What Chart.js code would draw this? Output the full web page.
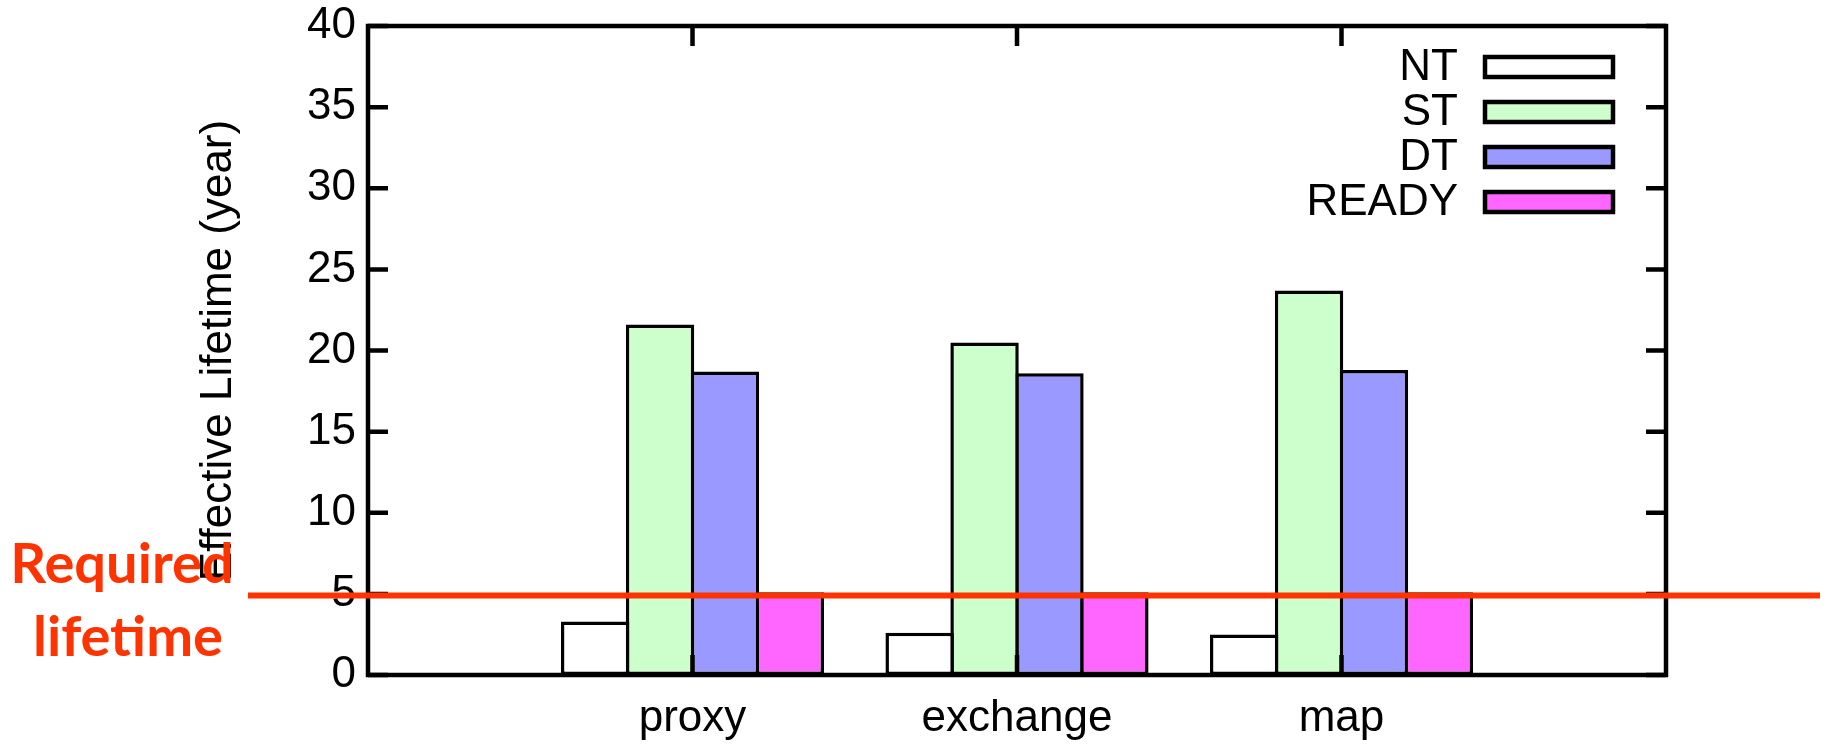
<!DOCTYPE html>
<html>
<head>
<meta charset="utf-8">
<title>Effective Lifetime</title>
<script src="https://cdn.jsdelivr.net/npm/chart.js@4.4.1/dist/chart.umd.min.js"></script>
<style>
  html, body { margin: 0; padding: 0; background: #ffffff; }
  #wrap { width: 1829px; height: 744px; position: relative; }
</style>
</head>
<body>
<div id="wrap"><canvas id="chart"></canvas></div>
<script>
// Workloads on the x axis
const categories = ['proxy', 'exchange', 'map'];

// Effective lifetime in years per scheme
const ntValues    = [3.3, 2.6, 2.5];
const stValues    = [21.6, 20.5, 23.7];
const dtValues    = [18.7, 18.6, 18.8];
const readyValues = [5.1, 5.1, 5.1];

// Y axis ticks (years)
const yTicks = [0, 5, 10, 15, 20, 25, 30, 35, 40];

// Required lifetime marker
const requiredLifetime = 4.9;
const requiredText = ['Required', 'lifetime'];

const yTitle = 'Effective Lifetime (year)';

const AXIS_FONT = '"Liberation Sans", Arial, Helvetica, sans-serif';
Chart.defaults.font.family = AXIS_FONT;
Chart.defaults.color = '#000000';

// Empty slots on both sides of the three workloads
const labels = [''].concat(categories, ['']);
const pad = arr => [null].concat(arr, [null]);

const TICK_LEN = 20;
const BAR_BORDER = 3.5;

// Plot frame with inward ticks on all four sides
const framePlugin = {
  id: 'frame',
  afterDatasetsDraw(chart) {
    const { ctx, chartArea: a, scales: { x, y } } = chart;
    ctx.save();
    ctx.strokeStyle = '#000000';
    ctx.lineWidth = 4.5;
    ctx.beginPath();
    yTicks.forEach(v => {
      const py = y.getPixelForValue(v);
      ctx.moveTo(a.left, py);  ctx.lineTo(a.left + TICK_LEN, py);
      ctx.moveTo(a.right, py); ctx.lineTo(a.right - TICK_LEN, py);
    });
    categories.forEach((c, i) => {
      const px = x.getPixelForValue(i + 1);
      ctx.moveTo(px, a.top);    ctx.lineTo(px, a.top + TICK_LEN);
      ctx.moveTo(px, a.bottom); ctx.lineTo(px, a.bottom - TICK_LEN);
    });
    ctx.stroke();
    ctx.lineJoin = 'miter';
    ctx.strokeRect(a.left, a.top, a.right - a.left, a.bottom - a.top);
    ctx.restore();
  }
};

// Key in the upper right of the plot: label, then a filled box
const keyPlugin = {
  id: 'key',
  afterDatasetsDraw(chart) {
    const { ctx, chartArea: a } = chart;
    const boxW = 128, boxH = 20, rowH = 45;
    const boxRight = a.right - 53;
    const boxLeft = boxRight - boxW;
    let cy = a.top + 41;
    ctx.save();
    ctx.font = '44px ' + AXIS_FONT;
    ctx.textAlign = 'right';
    ctx.textBaseline = 'middle';
    chart.data.datasets.forEach(ds => {
      ctx.fillStyle = '#000000';
      ctx.fillText(ds.label, boxLeft - 27, cy + 1);
      ctx.fillStyle = ds.backgroundColor;
      ctx.fillRect(boxLeft, cy - boxH / 2, boxW, boxH);
      ctx.lineWidth = 4.5;
      ctx.strokeStyle = '#000000';
      ctx.strokeRect(boxLeft, cy - boxH / 2, boxW, boxH);
      cy += rowH;
    });
    ctx.restore();
  }
};

// Red horizontal marker with its caption on the left
const requiredPlugin = {
  id: 'required',
  afterDraw(chart) {
    const { ctx, scales: { y } } = chart;
    const py = y.getPixelForValue(requiredLifetime);
    ctx.save();
    ctx.strokeStyle = '#ff3300';
    ctx.lineWidth = 6;
    ctx.beginPath();
    ctx.moveTo(248, py);
    ctx.lineTo(1820, py);
    ctx.stroke();
    ctx.fillStyle = '#ff3300';
    ctx.font = 'bold 56px Lato, "Open Sans", sans-serif';
    ctx.textAlign = 'center';
    ctx.textBaseline = 'alphabetic';
    ctx.fillText(requiredText[0], 122, py - 12);
    ctx.fillText(requiredText[1], 128, py + 61);
    ctx.restore();
  }
};

new Chart(document.getElementById('chart'), {
  type: 'bar',
  data: {
    labels: labels,
    datasets: [
      { label: 'NT',    data: pad(ntValues),    backgroundColor: '#ffffff' },
      { label: 'ST',    data: pad(stValues),    backgroundColor: '#ccffcc' },
      { label: 'DT',    data: pad(dtValues),    backgroundColor: '#9999ff' },
      { label: 'READY', data: pad(readyValues), backgroundColor: '#ff66ff' }
    ].map(d => Object.assign(d, {
      borderColor: '#000000',
      borderWidth: BAR_BORDER,
      borderSkipped: false,
      categoryPercentage: 0.8,
      barPercentage: 1.054
    }))
  },
  options: {
    responsive: true,
    maintainAspectRatio: false,
    animation: false,
    devicePixelRatio: 1,
    layout: { padding: { left: 0, top: 26, right: 163, bottom: 0 } },
    plugins: {
      legend: { display: false },
      tooltip: { enabled: false },
      title: { display: false }
    },
    scales: {
      x: {
        type: 'category',
        offset: false,
        grid: { display: false, drawTicks: false },
        border: { display: false },
        ticks: {
          autoSkip: false,
          maxRotation: 0,
          padding: 17,
          font: { size: 44 },
          color: '#000000'
        },
        afterFit(scale) {
          scale.height = 69;
          scale.paddingLeft = 0; scale.paddingRight = 0;
        }
      },
      y: {
        min: 0,
        max: 40,
        grid: { display: false, drawTicks: false },
        border: { display: false },
        ticks: {
          padding: 12,
          font: { size: 44 },
          color: '#000000'
        },
        afterBuildTicks(scale) {
          scale.ticks = yTicks.map(v => ({ value: v }));
        },
        title: {
          display: true,
          text: yTitle,
          font: { size: 44 },
          color: '#000000',
          padding: { top: 192, bottom: 0 }
        },
        afterFit(scale) {
          scale.width = 368;
          scale.paddingTop = 0; scale.paddingBottom = 0;
        }
      }
    }
  },
  plugins: [framePlugin, keyPlugin, requiredPlugin]
});
</script>
</body>
</html>
